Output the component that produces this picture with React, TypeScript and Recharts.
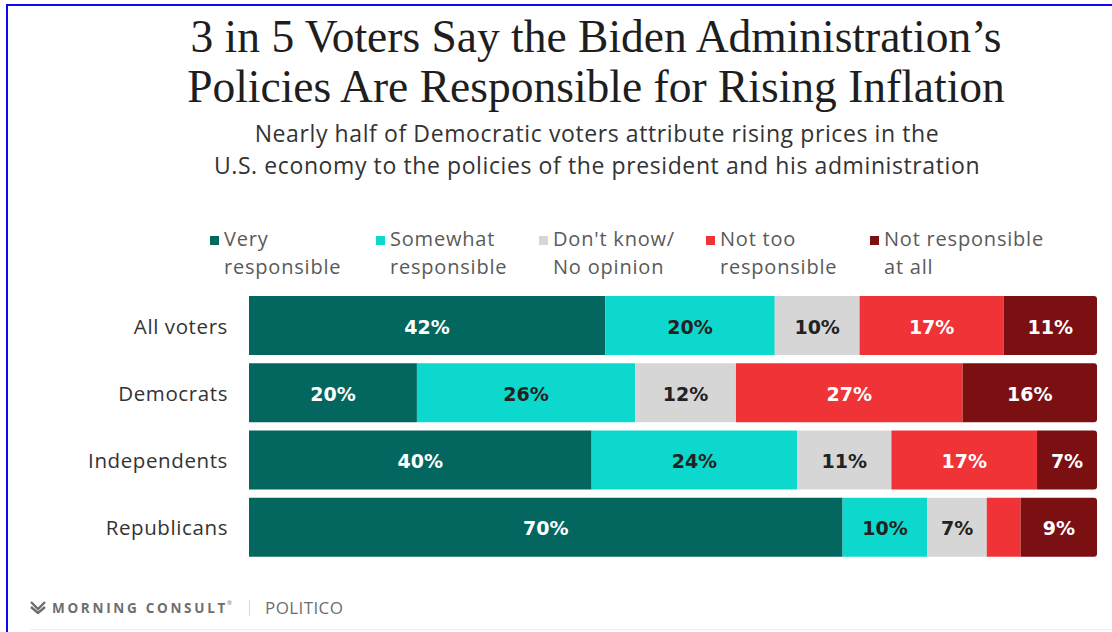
import { Bar, BarChart, LabelList, XAxis, YAxis } from "recharts";

// groups of voters, top to bottom
const groups = ["All voters", "Democrats", "Independents", "Republicans"];

// share of each group, in percent
const veryResponsible = [42, 20, 40, 70];
const somewhatResponsible = [20, 26, 24, 10];
const dontKnow = [10, 12, 11, 7];
const notTooResponsible = [17, 27, 17, 4];
const notResponsibleAtAll = [11, 16, 7, 9];

const seriesKeys = ["very", "somewhat", "dontKnow", "notToo", "notAtAll"];
const seriesValues = [
  veryResponsible,
  somewhatResponsible,
  dontKnow,
  notTooResponsible,
  notResponsibleAtAll,
];
const seriesLabels = [
  ["Very", "responsible"],
  ["Somewhat", "responsible"],
  ["Don't know/", "No opinion"],
  ["Not too", "responsible"],
  ["Not responsible", "at all"],
];
const seriesColors = ["#03675f", "#0dd8cd", "#d6d6d6", "#ef3337", "#7b1013"];
const labelColors = ["#ffffff", "#222222", "#222222", "#ffffff", "#ffffff"];

const rows = groups.map((group, i) => {
  const row: Record<string, string | number> = { group };
  seriesKeys.forEach((key, s) => {
    row[key] = seriesValues[s][i];
  });
  return row;
});

const SANS = "'Open Sans', 'Noto Sans', sans-serif";
const legendX = [210, 376, 539, 706, 870];

function SegmentLabel(props: any) {
  const x = Number(props.x);
  const y = Number(props.y);
  const width = Number(props.width);
  const height = Number(props.height);
  // too narrow to hold a label (Republicans' "not too" slice)
  if (!(width >= 40)) return null;
  return (
    <text
      x={x + width / 2}
      y={y + height / 2 + 1}
      textAnchor="middle"
      dominantBaseline="central"
      fill={props.color}
      fontSize={19}
      fontWeight={700}
      fontFamily="'DejaVu Sans', sans-serif"
    >
      {props.value}%
    </text>
  );
}

function CategoryTick(props: any) {
  const { x, y, payload } = props;
  return (
    <text
      x={x}
      y={y}
      textAnchor="end"
      dominantBaseline="central"
      fill="#333"
      fontSize={20.5}
      letterSpacing={0.6}
      fontFamily={SANS}
    >
      {payload.value}
    </text>
  );
}

function LegendRow() {
  return (
    <>
      {seriesLabels.map((lines, i) => (
        <div
          key={seriesKeys[i]}
          style={{
            position: "absolute",
            left: legendX[i],
            top: 225,
            display: "flex",
            alignItems: "flex-start",
            fontFamily: SANS,
            fontSize: 20,
            letterSpacing: 0.8,
            lineHeight: "28px",
            color: "#5a5a5a",
          }}
        >
          <span
            style={{
              width: 9,
              height: 9,
              marginTop: 11,
              marginRight: 5,
              background: seriesColors[i],
              flexShrink: 0,
            }}
          />
          <div>
            {lines.map((l) => (
              <div key={l}>{l}</div>
            ))}
          </div>
        </div>
      ))}
    </>
  );
}

function Footer() {
  return (
    <div
      style={{
        position: "absolute",
        left: 30,
        top: 596,
        display: "flex",
        alignItems: "center",
        color: "#6e6e6e",
        fontFamily: SANS,
      }}
    >
      <svg width="16" height="13" viewBox="0 0 16 13" aria-hidden>
        <path
          d="M1 1 L8 8 L15 1 M1 6 L8 12 L15 6"
          fill="none"
          stroke="#6e6e6e"
          strokeWidth="2.4"
        />
      </svg>
      <span
        style={{
          marginLeft: 6,
          fontSize: 13.5,
          fontWeight: 700,
          letterSpacing: 2.7,
        }}
      >
        MORNING CONSULT
      </span>
      <span style={{ fontSize: 6, marginTop: -10, marginLeft: -1 }}>®</span>
      <span
        style={{
          width: 1,
          height: 16,
          background: "#d8d8d8",
          marginLeft: 17,
          marginRight: 15,
        }}
      />
      <span style={{ fontSize: 17, letterSpacing: 0.4 }}>POLITICO</span>
    </div>
  );
}

export default function App() {
  return (
    <div
      style={{
        position: "absolute",
        left: 0,
        top: 0,
        width: 1112,
        height: 632,
        background: "#fff",
        overflow: "hidden",
      }}
    >
      {/* frame */}
      <div
        style={{
          position: "absolute",
          left: 6,
          top: 4,
          width: 1120,
          height: 640,
          borderTop: "2px solid #0a0af5",
          borderLeft: "2px solid #0a0af5",
        }}
      />
      <div
        style={{
          position: "absolute",
          left: 0,
          top: 12,
          width: 1192,
          textAlign: "center",
          fontFamily: "'Liberation Serif', serif",
          fontSize: 45.5,
          lineHeight: "50px",
          color: "#1e1e1e",
        }}
      >
        <div>3 in 5 Voters Say the Biden Administration’s</div>
        <div>Policies Are Responsible for Rising Inflation</div>
      </div>
      <div
        style={{
          position: "absolute",
          left: 0,
          top: 117,
          width: 1194,
          textAlign: "center",
          fontFamily: SANS,
          fontSize: 23,
          letterSpacing: 0.6,
          lineHeight: "32px",
          color: "#333",
        }}
      >
        <div>Nearly half of Democratic voters attribute rising prices in the</div>
        <div>U.S. economy to the policies of the president and his administration</div>
      </div>
      <LegendRow />
      <div style={{ position: "absolute", left: 0, top: 0 }}>
        <BarChart
          width={1112}
          height={632}
          data={rows}
          layout="vertical"
          stackOffset="expand"
          barCategoryGap={4}
          margin={{ top: 292, right: 15, bottom: 71, left: 0 }}
        >
          <XAxis type="number" domain={[0, 1]} hide />
          <YAxis
            type="category"
            dataKey="group"
            width={249}
            axisLine={false}
            tickLine={false}
            tickSize={0}
            tickMargin={21}
            tick={<CategoryTick />}
          />
          {seriesKeys.map((key, i) => (
            <Bar
              key={key}
              dataKey={key}
              stackId="a"
              fill={seriesColors[i]}
              radius={i === seriesKeys.length - 1 ? [0, 3, 3, 0] : 0}
              isAnimationActive={false}
            >
              <LabelList
                dataKey={key}
                content={(p: any) => <SegmentLabel {...p} color={labelColors[i]} />}
              />
            </Bar>
          ))}
        </BarChart>
      </div>
      <Footer />
      <div
        style={{
          position: "absolute",
          left: 30,
          top: 629,
          width: 1100,
          height: 1,
          background: "#ececec",
        }}
      />
    </div>
  );
}
